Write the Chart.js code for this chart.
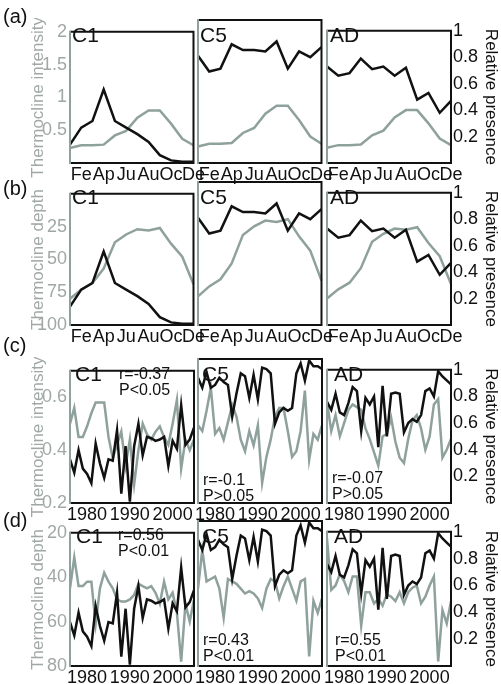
<!DOCTYPE html>
<html>
<head>
<meta charset="utf-8">
<script src="https://cdn.jsdelivr.net/npm/chart.js@4.4.1/dist/chart.umd.min.js"></script>
<style>
html, body { margin: 0; padding: 0; background: #fff; }
#fig { position: relative; width: 501px; height: 684px; overflow: hidden; font-family: "Liberation Sans", Arial, sans-serif; }
#fig canvas { position: absolute; }
.lbl { position: absolute; white-space: nowrap; line-height: 1; color: #111; }
</style>
</head>
<body>
<div id="fig"></div>
<script>
// =====================
//  DATA
// =====================
const MONTHS = ["Jan", "Feb", "Mar", "Apr", "May", "Jun", "Jul", "Aug", "Sep", "Oct", "Nov", "Dec"];
const YEARS = [1976, 1977, 1978, 1979, 1980, 1981, 1982, 1983, 1984, 1985,
               1986, 1987, 1988, 1989, 1990, 1991, 1992, 1993, 1994, 1995,
               1996, 1997, 1998, 1999, 2000, 2001, 2002, 2003, 2004, 2005];
const REGIONS = ["C1", "C5", "AD"];

// monthly relative presence (black, right axis) - rows (a) and (b)
const PRESENCE_MONTHLY_C1 = [0.14, 0.27, 0.32, 0.56, 0.32, 0.27, 0.22, 0.16, 0.06, 0.02, 0.01, 0.01];
const PRESENCE_MONTHLY_C5 = [0.75, 0.64, 0.66, 0.83, 0.79, 0.79, 0.78, 0.85, 0.66, 0.78, 0.74, 0.81];
const PRESENCE_MONTHLY_AD = [0.73, 0.66, 0.68, 0.79, 0.71, 0.73, 0.66, 0.72, 0.48, 0.53, 0.38, 0.47];

// monthly thermocline (grey, left axis)
const INTENSITY_MONTHLY = [0.23, 0.27, 0.27, 0.28, 0.42, 0.49, 0.69, 0.80, 0.80, 0.60, 0.37, 0.27];
const DEPTH_MONTHLY = [80, 73, 68, 57, 37, 31, 27, 28, 26, 38, 48, 69];

// yearly relative presence (black, right axis) - rows (c) and (d)
const PRESENCE_C1 = [0.33, 0.23, 0.40, 0.26, 0.22, 0.15, 0.45, 0.30, 0.19, 0.33, 0.32, 0.55, 0.07, 0.43, 0.01,
                     0.43, 0.60, 0.36, 0.50, 0.49, 0.47, 0.48, 0.50, 0.28, 0.47, 0.41, 0.74, 0.44, 0.48, 0.57];
const PRESENCE_C5 = [0.87, 0.80, 0.91, 0.80, 0.82, 0.87, 0.84, 0.82, 0.60, 0.76, 0.90, 0.88, 0.73, 0.89, 0.72,
                     0.94, 0.93, 0.90, 0.55, 0.63, 0.66, 0.64, 0.66, 0.90, 0.97, 0.85, 0.99, 0.95, 0.95, 0.93];
const PRESENCE_AD = [0.76, 0.70, 0.82, 0.68, 0.66, 0.75, 0.87, 0.84, 0.54, 0.79, 0.74, 0.80, 0.42, 0.88, 0.50,
                     0.82, 0.83, 0.82, 0.53, 0.60, 0.63, 0.61, 0.66, 0.84, 0.86, 0.80, 0.99, 0.95, 0.92, 0.89];

// yearly thermocline intensity (grey) - row (c)
const INTENSITY_C1 = [0.50, 0.56, 0.45, 0.45, 0.49, 0.54, 0.58, 0.58, 0.58, 0.45, 0.37, 0.42, 0.47, 0.34, 0.44,
                      0.27, 0.40, 0.50, 0.46, 0.44, 0.47, 0.49, 0.45, 0.42, 0.50, 0.59, 0.33, 0.44, 0.40, 0.44];
const INTENSITY_C5 = [0.47, 0.45, 0.52, 0.60, 0.44, 0.46, 0.42, 0.48, 0.54, 0.50, 0.42, 0.38, 0.45, 0.40, 0.47,
                      0.27, 0.36, 0.42, 0.50, 0.53, 0.53, 0.45, 0.36, 0.38, 0.45, 0.59, 0.35, 0.44, 0.42, 0.47];
const INTENSITY_AD = [0.58, 0.47, 0.53, 0.45, 0.50, 0.55, 0.57, 0.56, 0.55, 0.48, 0.44, 0.39, 0.34, 0.45, 0.46,
                      0.52, 0.43, 0.37, 0.35, 0.44, 0.51, 0.53, 0.48, 0.40, 0.45, 0.57, 0.59, 0.37, 0.40, 0.44];

// yearly thermocline depth (grey) - row (d)
const DEPTH_C1 = [45, 31, 44, 44, 42, 42, 61, 45, 38, 42, 45, 50, 51, 51, 50,
                  48, 43, 44, 45, 44, 47, 52, 42, 50, 47, 56, 78, 52, 60, 50];
const DEPTH_C5 = [48, 32, 45, 44, 43, 48, 60, 44, 45, 46, 48, 50, 49, 50, 52,
                  56, 48, 44, 45, 52, 47, 43, 48, 53, 45, 44, 76, 53, 58, 52];
const DEPTH_AD = [23, 46, 44, 39, 42, 47, 40, 40, 62, 47, 47, 52, 50, 53, 48,
                  49, 51, 47, 52, 47, 45, 44, 52, 49, 44, 40, 78, 55, 61, 51];

// tick labels
const INTENSITY_TICKS_A = [0.5, 1, 1.5, 2];
const DEPTH_TICKS_B = [25, 50, 75, 100];
const INTENSITY_TICKS_C = [0.2, 0.4, 0.6];
const DEPTH_TICKS_D = [20, 40, 60, 80];
const PRESENCE_TICKS = [0.2, 0.4, 0.6, 0.8, 1];

// correlation notes
const STATS_C = [["r=-0.37", "P<0.05"], ["r=-0.1", "P>0.05"], ["r=-0.07", "P>0.05"]];
const STATS_D = [["r=0.56", "P<0.01"], ["r=0.43", "P<0.01"], ["r=0.55", "P<0.01"]];


// =====================
//  STYLE
// =====================
const FONT = "'Liberation Sans', Arial, sans-serif";
const BLACK = "#111111";
const GREY_LINE = "#8fa19d";
const GREY_TEXT = "#a0a8a6";
Chart.defaults.font.family = FONT;

const COLS = [
    { left: 70, right: 194 },
    { left: 198, right: 322 },
    { left: 327, right: 451 }
];

const monthTick = (v, i) => (i % 2 === 1 ? MONTHS[i].slice(0, 2) : "");
const yearTick = (v, i) => (YEARS[i] % 10 === 0 ? String(YEARS[i]) : "");
const plainTick = (v) => String(v);

const ROWS = [
    {
        tag: "(a)", top: 20, bottom: 163, labels: MONTHS, tick: monthTick,
        grey: [INTENSITY_MONTHLY, INTENSITY_MONTHLY, INTENSITY_MONTHLY],
        black: [PRESENCE_MONTHLY_C1, PRESENCE_MONTHLY_C5, PRESENCE_MONTHLY_AD],
        left: { min: 0, max: 2, reverse: false, ticks: INTENSITY_TICKS_A, title: "Thermocline intensity" },
        regionX: [72, 200, 330], tagY: 6, stats: null
    },
    {
        tag: "(b)", top: 182, bottom: 325, labels: MONTHS, tick: monthTick,
        grey: [DEPTH_MONTHLY, DEPTH_MONTHLY, DEPTH_MONTHLY],
        black: [PRESENCE_MONTHLY_C1, PRESENCE_MONTHLY_C5, PRESENCE_MONTHLY_AD],
        left: { min: 0, max: 100, reverse: true, ticks: DEPTH_TICKS_B, title: "Thermocline depth" },
        regionX: [72, 200, 330], tagY: 178, stats: null
    },
    {
        tag: "(c)", top: 359, bottom: 503, labels: YEARS, tick: yearTick,
        grey: [INTENSITY_C1, INTENSITY_C5, INTENSITY_AD],
        black: [PRESENCE_C1, PRESENCE_C5, PRESENCE_AD],
        left: { min: 0.2, max: 0.7, reverse: false, ticks: INTENSITY_TICKS_C, title: "Thermocline intensity" },
        regionX: [75, 202, 334], tagY: 335,
        stats: STATS_C, statsPos: [[119, 366], [203, 472], [332, 470]]
    },
    {
        tag: "(d)", top: 521, bottom: 666, labels: YEARS, tick: yearTick,
        grey: [DEPTH_C1, DEPTH_C5, DEPTH_AD],
        black: [PRESENCE_C1, PRESENCE_C5, PRESENCE_AD],
        left: { min: 20, max: 80, reverse: true, ticks: DEPTH_TICKS_D, title: "Thermocline depth" },
        regionX: [76, 202, 334], tagY: 510,
        stats: STATS_D, statsPos: [[118, 527], [203, 632], [335, 632]]
    }
];

// frame: grey left spine, black elsewhere
const framePlugin = {
    id: "frame",
    afterDatasetsDraw(chart) {
        const { ctx, chartArea: a } = chart;
        ctx.save();
        ctx.lineWidth = 2;
        ctx.strokeStyle = BLACK;
        ctx.beginPath();
        ctx.moveTo(a.left, a.top);
        ctx.lineTo(a.right, a.top);
        ctx.lineTo(a.right, a.bottom);
        ctx.lineTo(a.left, a.bottom);
        ctx.stroke();
        ctx.strokeStyle = GREY_LINE;
        ctx.beginPath();
        ctx.moveTo(a.left, a.top - 1);
        ctx.lineTo(a.left, a.bottom + 1);
        ctx.stroke();
        ctx.restore();
    }
};

const fig = document.getElementById("fig");

function addText(text, x, y, size) {
    const d = document.createElement("div");
    d.className = "lbl";
    d.textContent = text;
    d.style.left = x + "px";
    d.style.top = y + "px";
    d.style.fontSize = size + "px";
    fig.appendChild(d);
}

function makePanel(row, ci) {
    const col = COLS[ci];
    const pad = 12;
    const xH = 22;
    const first = ci === 0;
    const last = ci === 2;
    const cx = first ? 0 : col.left - pad;
    const cw = (last ? 501 : col.right + pad) - cx;
    const cy = row.top - 2;
    const ch = row.bottom - row.top + 2 + xH;

    const canvas = document.createElement("canvas");
    canvas.width = cw;
    canvas.height = ch;
    canvas.style.left = cx + "px";
    canvas.style.top = cy + "px";
    canvas.style.width = cw + "px";
    canvas.style.height = ch + "px";
    fig.appendChild(canvas);

    const tickFont = { size: 18, family: FONT };

    new Chart(canvas.getContext("2d"), {
        type: "line",
        data: {
            labels: row.labels,
            datasets: [
                {
                    data: row.black[ci], yAxisID: "y1", order: 0,
                    borderColor: BLACK, borderWidth: 2.5
                },
                {
                    data: row.grey[ci], yAxisID: "y", order: 1,
                    borderColor: GREY_LINE, borderWidth: 2.5
                }
            ]
        },
        options: {
            responsive: false,
            animation: false,
            events: [],
            layout: { padding: { left: first ? 0 : pad, right: last ? 0 : pad, top: 2, bottom: 0 } },
            elements: { point: { radius: 0 }, line: { tension: 0 } },
            plugins: { legend: { display: false }, tooltip: { enabled: false } },
            scales: {
                x: {
                    ticks: {
                        autoSkip: false, maxRotation: 0, minRotation: 0, padding: 1,
                        color: BLACK, font: tickFont, callback: row.tick
                    },
                    grid: { display: false, drawTicks: false },
                    border: { display: false },
                    afterFit: (s) => { s.height = xH; }
                },
                y: {
                    position: "left",
                    display: first,
                    min: row.left.min,
                    max: row.left.max,
                    reverse: row.left.reverse,
                    afterBuildTicks: (s) => { s.ticks = row.left.ticks.map((v) => ({ value: v })); },
                    ticks: { color: GREY_TEXT, font: tickFont, padding: 3, callback: plainTick },
                    title: {
                        display: true, text: row.left.title, color: GREY_TEXT,
                        font: { size: 17, family: FONT }, padding: { top: 28, bottom: 0 }
                    },
                    grid: { display: false, drawTicks: false },
                    border: { display: false },
                    afterFit: (s) => { if (first) s.width = col.left; }
                },
                y1: {
                    position: "right",
                    display: last,
                    min: 0,
                    max: 1,
                    afterBuildTicks: (s) => { s.ticks = PRESENCE_TICKS.map((v) => ({ value: v })); },
                    ticks: { color: BLACK, font: tickFont, padding: 2, callback: plainTick },
                    title: {
                        display: true, text: "Relative presence", color: BLACK,
                        font: { size: 17, family: FONT }, padding: { top: 0, bottom: 0 }
                    },
                    grid: { display: false, drawTicks: false },
                    border: { display: false },
                    afterFit: (s) => { if (last) s.width = 501 - col.right; }
                }
            }
        },
        plugins: [framePlugin]
    });

    // region name inside the panel
    addText(REGIONS[ci], row.regionX[ci], row.top + 4, 21);
    if (row.stats) {
        const [sx, sy] = row.statsPos[ci];
        addText(row.stats[ci][0], sx, sy, 16);
        addText(row.stats[ci][1], sx, sy + 16, 16);
    }
}

ROWS.forEach((row) => {
    [0, 1, 2].forEach((ci) => makePanel(row, ci));
    addText(row.tag, 3, row.tagY, 20);
});
</script>
</body>
</html>
